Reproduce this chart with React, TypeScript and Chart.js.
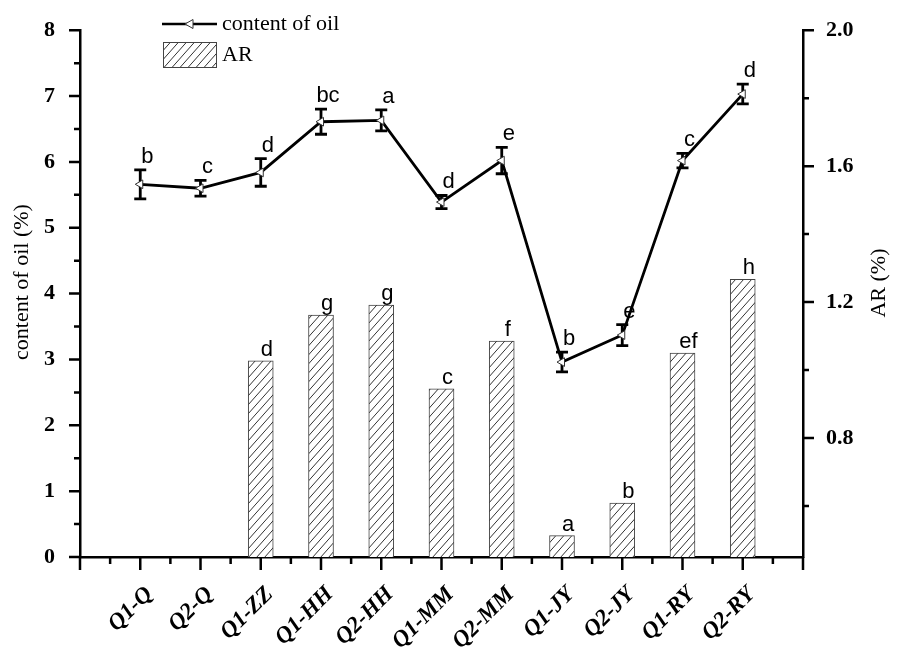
import React, { useEffect, useRef } from 'react';
import { Chart, registerables } from 'chart.js';

Chart.register(...registerables);

// ---- data ----
const categories = ['Q1-Q', 'Q2-Q', 'Q1-ZZ', 'Q1-HH', 'Q2-HH', 'Q1-MM', 'Q2-MM', 'Q1-JY', 'Q2-JY', 'Q1-RY', 'Q2-RY'];
const oilContent = [5.66, 5.60, 5.84, 6.61, 6.63, 5.39, 6.02, 2.96, 3.37, 6.02, 7.03];
const oilError = [0.22, 0.12, 0.21, 0.19, 0.16, 0.10, 0.20, 0.15, 0.16, 0.11, 0.15];
const oilLetters = ['b', 'c', 'd', 'bc', 'a', 'd', 'e', 'b', 'e', 'c', 'd'];
const arValues: (number | null)[] = [null, null, 1.027, 1.162, 1.191, 0.945, 1.085, 0.513, 0.609, 1.05, 1.267];
const arLetters = ['', '', 'd', 'g', 'g', 'c', 'f', 'a', 'b', 'ef', 'h'];
const oilTicks = [0, 1, 2, 3, 4, 5, 6, 7, 8];
const oilMinorTicks = [0.5, 1.5, 2.5, 3.5, 4.5, 5.5, 6.5, 7.5];
const arTicks = [0.8, 1.2, 1.6, 2.0];
const arMinorTicks = [0.6, 1.0, 1.4, 1.8];

const SERIF = '"Liberation Serif", "Times New Roman", serif';
const SANS = '"Liberation Sans", Arial, sans-serif';

function makeHatch(ctx: CanvasRenderingContext2D): CanvasPattern | string {
  const w = 8;
  const h = 9;
  const c = document.createElement('canvas');
  c.width = w;
  c.height = h;
  const g = c.getContext('2d');
  if (!g) return '#fff';
  g.fillStyle = '#ffffff';
  g.fillRect(0, 0, w, h);
  g.strokeStyle = '#333333';
  g.lineWidth = 1;
  g.beginPath();
  g.moveTo(-w, 2 * h);
  g.lineTo(2 * w, -h);
  g.moveTo(-2 * w, 2 * h);
  g.lineTo(w, -h);
  g.moveTo(0, 2 * h);
  g.lineTo(3 * w, -h);
  g.stroke();
  return ctx.createPattern(c, 'repeat') || '#fff';
}

export default function App() {
  const ref = useRef<HTMLCanvasElement | null>(null);

  useEffect(() => {
    document.body.style.margin = '0';
    const canvas = ref.current;
    if (!canvas) return;
    const ctx = canvas.getContext('2d');
    if (!ctx) return;
    const hatch = makeHatch(ctx);

    const labels = ['', ...categories, ''];
    const barData = [null, ...arValues, null];
    const lineData = [null, ...oilContent, null];

    const decor = {
      id: 'decor',
      beforeDatasetsDraw(chart: any) {
        const c = chart.ctx;
        const xs = chart.scales.x;
        const yl = chart.scales.yL;
        c.save();
        c.strokeStyle = '#000';
        c.lineWidth = 2.8;
        oilContent.forEach((v, i) => {
          const x = xs.getPixelForValue(i + 1);
          const yt = yl.getPixelForValue(v + oilError[i]);
          const yb = yl.getPixelForValue(v - oilError[i]);
          c.beginPath();
          c.moveTo(x, yt);
          c.lineTo(x, yb);
          c.moveTo(x - 6, yt);
          c.lineTo(x + 6, yt);
          c.moveTo(x - 6, yb);
          c.lineTo(x + 6, yb);
          c.stroke();
        });
        c.restore();
      },
      afterDatasetsDraw(chart: any) {
        const c = chart.ctx;
        const xs = chart.scales.x;
        const yl = chart.scales.yL;
        const yr = chart.scales.yR;
        c.save();
        c.fillStyle = '#000';
        c.font = `22px ${SANS}`;
        c.textAlign = 'center';
        c.textBaseline = 'alphabetic';
        oilContent.forEach((v, i) => {
          const x = xs.getPixelForValue(i + 1) + 7;
          const y = yl.getPixelForValue(v + oilError[i]) - 7;
          c.fillText(oilLetters[i], x, y);
        });
        arValues.forEach((v, i) => {
          if (v === null || !arLetters[i]) return;
          const x = xs.getPixelForValue(i + 1) + 6;
          const y = yr.getPixelForValue(v) - 5;
          c.fillText(arLetters[i], x, y);
        });
        c.restore();
      },
      afterDraw(chart: any) {
        const c = chart.ctx;
        const xs = chart.scales.x;
        const yl = chart.scales.yL;
        const yr = chart.scales.yR;
        const area = chart.chartArea;
        c.save();
        c.strokeStyle = '#000';
        c.lineWidth = 2.5;
        c.lineCap = 'butt';
        c.beginPath();
        for (let i = 0; i <= labels.length - 1; i++) {
          const x = xs.getPixelForValue(i);
          c.moveTo(x, area.bottom);
          c.lineTo(x, area.bottom + 13);
          if (i < labels.length - 1) {
            const xm = xs.getPixelForValue(i + 0.5);
            c.moveTo(xm, area.bottom);
            c.lineTo(xm, area.bottom + 7);
          }
        }
        oilTicks.forEach((v) => {
          const y = yl.getPixelForValue(v);
          c.moveTo(area.left, y);
          c.lineTo(area.left - 11, y);
        });
        oilMinorTicks.forEach((v) => {
          const y = yl.getPixelForValue(v);
          c.moveTo(area.left, y);
          c.lineTo(area.left - 6, y);
        });
        arTicks.forEach((v) => {
          const y = yr.getPixelForValue(v);
          c.moveTo(area.right, y);
          c.lineTo(area.right + 11, y);
        });
        arMinorTicks.forEach((v) => {
          const y = yr.getPixelForValue(v);
          c.moveTo(area.right, y);
          c.lineTo(area.right + 6, y);
        });
        c.stroke();

        c.fillStyle = '#000';
        c.font = `22px ${SERIF}`;
        c.textAlign = 'center';
        c.textBaseline = 'middle';
        c.save();
        c.translate(22, 282);
        c.rotate(-Math.PI / 2);
        c.fillText('content of oil (%)', 0, 0);
        c.restore();
        c.save();
        c.translate(879, 283);
        c.rotate(-Math.PI / 2);
        c.fillText('AR (%)', 0, 0);
        c.restore();

        c.lineWidth = 2.5;
        c.beginPath();
        c.moveTo(162, 24);
        c.lineTo(217, 24);
        c.stroke();
        c.beginPath();
        c.moveTo(185, 24);
        c.lineTo(193, 19.5);
        c.lineTo(193, 28.5);
        c.closePath();
        c.fillStyle = '#fff';
        c.fill();
        c.lineWidth = 1;
        c.strokeStyle = '#333';
        c.stroke();
        c.fillStyle = hatch as any;
        c.fillRect(163, 42, 53, 25);
        c.strokeStyle = '#444';
        c.lineWidth = 1;
        c.strokeRect(163.5, 42.5, 53, 25);
        c.fillStyle = '#000';
        c.textAlign = 'left';
        c.textBaseline = 'middle';
        c.font = `22px ${SERIF}`;
        c.fillText('content of oil', 222, 24);
        c.fillText('AR', 222, 55);
        c.restore();
      },
    };

    const chart = new Chart(canvas, {
      type: 'bar',
      data: {
        labels,
        datasets: [
          {
            type: 'line',
            label: 'content of oil',
            data: lineData as any,
            yAxisID: 'yL',
            borderColor: '#000',
            borderWidth: 2.8,
            pointStyle: 'triangle',
            rotation: -90,
            pointRadius: 5,
            pointBackgroundColor: '#fff',
            pointBorderColor: '#333',
            pointBorderWidth: 1,
            order: 0,
          } as any,
          {
            type: 'bar',
            label: 'AR',
            data: barData as any,
            yAxisID: 'yR',
            backgroundColor: hatch as any,
            borderColor: '#444',
            borderWidth: 1,
            borderSkipped: false,
            barThickness: 25,
            order: 1,
          } as any,
        ],
      },
      options: {
        responsive: false,
        animation: false,
        layout: { padding: { top: 22, left: 0, right: 0, bottom: 0 } },
        plugins: {
          legend: { display: false },
          tooltip: { enabled: false },
        },
        scales: {
          x: {
            type: 'category',
            offset: false,
            grid: { display: false },
            border: { display: true, color: '#000', width: 2.5 },
            ticks: {
              autoSkip: false,
              maxRotation: 45,
              minRotation: 45,
              padding: 16,
              labelOffset: 9,
              color: '#000',
              font: { family: SERIF, size: 23, weight: 'bold', style: 'italic' },
            },
            afterFit: (s: any) => {
              s.height = 97;
            },
          },
          yL: {
            type: 'linear',
            position: 'left',
            min: 0,
            max: 8,
            grid: { display: false },
            border: { display: true, color: '#000', width: 2.5 },
            ticks: {
              stepSize: 1,
              padding: 17,
              color: '#000',
              font: { family: SERIF, size: 22, weight: 'bold' },
            },
            afterFit: (s: any) => {
              s.width = 80;
            },
          },
          yR: {
            type: 'linear',
            position: 'right',
            min: 0.45,
            max: 2.0,
            grid: { display: false },
            border: { display: true, color: '#000', width: 2.5 },
            afterBuildTicks: (s: any) => {
              s.ticks = arTicks.map((v) => ({ value: v }));
            },
            ticks: {
              padding: 15,
              color: '#000',
              font: { family: SERIF, size: 22, weight: 'bold' },
              callback: (v: any) => Number(v).toFixed(1),
            },
            afterFit: (s: any) => {
              s.width = 106;
            },
          },
        },
      },
      plugins: [decor],
    });

    return () => chart.destroy();
  }, []);

  return (
    <div style={{ width: 909, height: 654 }}>
      <canvas ref={ref} width={909} height={654} style={{ display: 'block' }} />
    </div>
  );
}
